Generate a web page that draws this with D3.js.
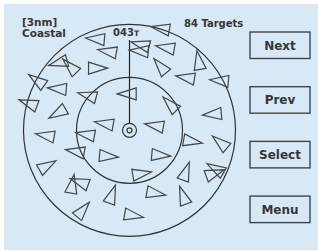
<!DOCTYPE html>
<html>
<head>
<meta charset="utf-8">
<script src="https://cdn.jsdelivr.net/npm/d3@7"></script>
<style>
  body { margin: 0; background: #fff; }
  text { font-family: "DejaVu Sans", sans-serif; font-weight: bold; fill: #363636; }
</style>
</head>
<body>
<svg width="318" height="251"></svg>
<script>
// radar range in nm and the count shown in the header
var rangeNm = 3;
var targetCount = 84;
var headingLabel = "043";
var buttons = ["Next", "Prev", "Select", "Menu"];

// target positions (nm, east / north of own ship) and headings (deg true)
var targetX = [-0.89, -0.55, 0.95, 0.38, 0.35, 1.09, 0.92, 1.97, 1.66, 2.62,
               2.42, -0.98, -1.94, -1.63, -2.56, -1.97, -2.79, -1.97, -1.12, 0.01,
               -0.64, -1.17, -2.31, -2.39, -1.34, -1.63, -1.37, -1.46, -0.67, -0.52,
               0.04, 0.78, 1.71, 2.62, 0.81, 0.27, 0.67, 1.57, 1.54, 2.50,
               2.34, 1.20];
var targetY = [2.58, 2.22, 2.87, 2.41, 2.24, 2.33, 1.76, 1.90, 1.48, 1.40,
               0.46, 1.76, 1.93, 1.76, 1.37, 1.17, 0.74, 0.52, 0.97, 1.03,
               0.18, -0.13, -0.16, -1.04, -1.49, -1.60, -2.31, -0.61, -0.73, -1.89,
               -2.40, 0.12, -0.30, -0.39, -0.70, -1.24, -1.77, -1.24, -1.92, -1.12,
               -1.24, 0.69];
var targetHeading = [275, 280, 280, 285, 275, 280, 320, 350, 280, 275,
                     265, 90, 255, 315, 305, 275, 290, 240, 285, 270,
                     280, 280, 280, 60, 290, 10, 40, 280, 95, 20,
                     100, 280, 100, 310, 95, 80, 100, 20, 340, 300,
                     70, 315];

var svg = d3.select("svg");
var cx = 129.5, cy = 130.3, R = 106;

svg.append("rect")
    .attr("x", 4).attr("y", 4)
    .attr("width", 314).attr("height", 246)
    .attr("fill", "#d7e9f7");

var x = d3.scaleLinear().domain([-rangeNm, rangeNm]).range([cx - R, cx + R]);
var y = d3.scaleLinear().domain([-rangeNm, rangeNm]).range([cy + R, cy - R]);
var r = d3.scaleLinear().domain([0, rangeNm]).range([0, R]);

var g = svg.append("g");

// range rings
g.selectAll(".ring")
    .data([rangeNm, rangeNm / 2])
    .enter().append("circle")
    .attr("cx", x(0)).attr("cy", y(0))
    .attr("r", function(d) { return r(d); })
    .attr("fill", "none")
    .attr("stroke", "#333")
    .attr("stroke-width", 1.2);

// heading line
g.append("line")
    .attr("x1", x(0)).attr("y1", y(0))
    .attr("x2", x(0)).attr("y2", 40)
    .attr("stroke", "#222")
    .attr("stroke-width", 1.2);

// own ship
g.selectAll(".own")
    .data([7, 2.5])
    .enter().append("circle")
    .attr("cx", x(0)).attr("cy", y(0))
    .attr("r", function(d) { return d; })
    .attr("fill", "#d7e9f7")
    .attr("stroke", "#333")
    .attr("stroke-width", 1.2);

// targets
var targets = targetX.map(function(d, i) {
    return {x: d, y: targetY[i], h: targetHeading[i]};
});
var L = 19, hb = 6;
var tri = "M0," + (-L * 2 / 3) + "L" + hb + "," + (L / 3) + "L" + (-hb) + "," + (L / 3) + "Z";

g.selectAll(".target")
    .data(targets)
    .enter().append("path")
    .attr("class", "target")
    .attr("d", tri)
    .attr("transform", function(d) {
        return "translate(" + x(d.x) + "," + y(d.y) + ") rotate(" + d.h + ")";
    })
    .attr("fill", "none")
    .attr("stroke", "#444")
    .attr("stroke-width", 1.2);

// labels
svg.append("text").attr("x", 22).attr("y", 26).attr("font-size", 10.5).text("[" + rangeNm + "nm]");
svg.append("text").attr("x", 22).attr("y", 37).attr("font-size", 10.5).text("Coastal");
svg.append("text").attr("x", 184).attr("y", 27).attr("font-size", 10).text(targetCount + " Targets");

var hl = svg.append("text").attr("x", 113).attr("y", 36).attr("font-size", 10);
hl.append("tspan").text(headingLabel);
hl.append("tspan").attr("font-size", 7.5).text("T");

// buttons
var bh = 26.5;
var btn = svg.selectAll(".btn")
    .data(buttons)
    .enter().append("g")
    .attr("class", "btn")
    .attr("transform", function(d, i) { return "translate(250," + (32 + i * 54.7) + ")"; });

btn.append("rect")
    .attr("width", 60).attr("height", bh)
    .attr("fill", "none")
    .attr("stroke", "#444")
    .attr("stroke-width", 1.4);

btn.append("text")
    .attr("x", 30).attr("y", 17.5)
    .attr("text-anchor", "middle")
    .attr("font-size", 12)
    .text(function(d) { return d; });
</script>
</body>
</html>
